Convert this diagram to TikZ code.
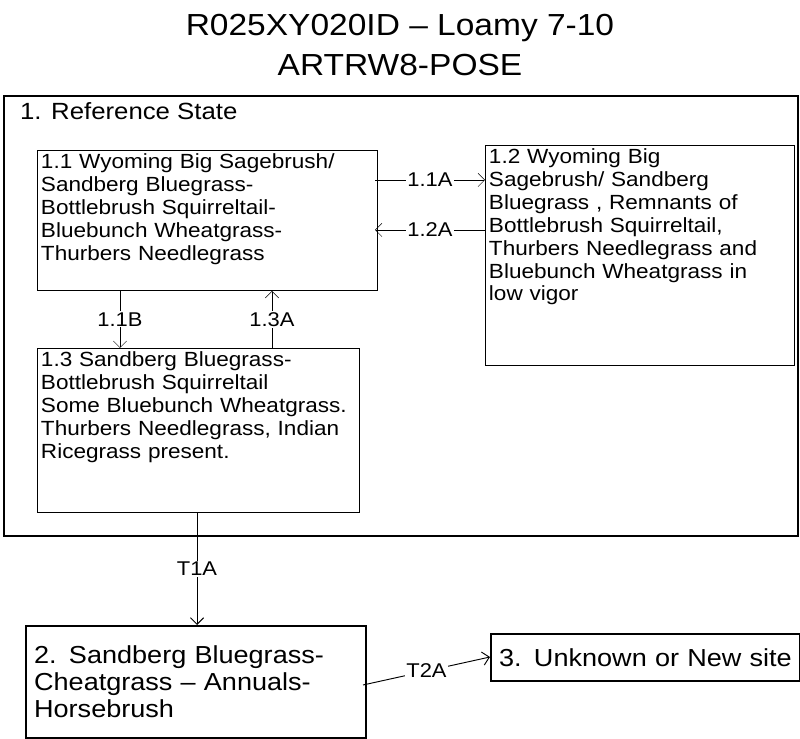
\documentclass[tikz,border=0pt]{standalone}
\usepackage{fontspec}
\setmainfont[FakeStretch=1.1]{Liberation Sans}
\usetikzlibrary{positioning,arrows.meta}
\newcommand{\topbox}[2]{\begin{minipage}[t][#1][t]{\hsize}\raggedright\hyphenpenalty=10000 #2\end{minipage}}
\begin{document}
\begin{tikzpicture}[x=0.03cm,y=-0.03cm,
    >={Straight Barb[length=2mm]},
    % Styles
    state/.style={% thin state boxes
        rectangle, draw, thick, anchor=north west,
        inner xsep=3pt, inner ysep=3pt,
        font=\fontsize{17.5}{19.5}\selectfont,
        },
    bigstate/.style={% thick state boxes
        rectangle, draw, line width=1.6pt, anchor=north west,
        align=left, inner xsep=7pt, inner ysep=4pt,
        font=\fontsize{21}{23}\selectfont,
        },
    lbl/.style={% arrow labels
        fill=white, inner sep=1pt,
        font=\fontsize{17}{18}\selectfont,
        },
    ]
\useasboundingbox (0,0) rectangle (800,739);

% Title
\node[font=\fontsize{26}{34}\selectfont, align=center] (title) at (400,45)
    {R025XY020ID -- Loamy 7-10\\ARTRW8-POSE};

% Reference state
\node[draw, line width=1.8pt, minimum width=794*0.03cm, minimum height=440*0.03cm,
      anchor=north west] (ref) at (3,95) {};
\node[anchor=north west, font=\fontsize{20}{22}\selectfont] (reftitle) at (16,98) {1. Reference State};

\node[state, text width=333*0.03cm] (s11) at (37,150)
    {\topbox{\dimexpr4.2cm-6pt}{1.1 Wyoming Big Sagebrush/\\Sandberg Bluegrass-\\Bottlebrush Squirreltail-\\Bluebunch Wheatgrass-\\Thurbers Needlegrass}};
\node[state, text width=302*0.03cm] (s12) at (485,145)
    {\topbox{\dimexpr6.6cm-6pt}{1.2 Wyoming Big\\Sagebrush/ Sandberg\\Bluegrass , Remnants of\\Bottlebrush Squirreltail,\\Thurbers Needlegrass and\\Bluebunch Wheatgrass in\\low vigor}};
\node[state, text width=315*0.03cm] (s13) at (37,348)
    {\topbox{\dimexpr4.92cm-6pt}{1.3 Sandberg Bluegrass-\\Bottlebrush Squirreltail\\Some Bluebunch Wheatgrass.\\Thurbers Needlegrass, Indian\\Ricegrass present.}};

\coordinate (a1) at (375,180);
\coordinate (b1) at (485,180);
\coordinate (a2) at (485,230);
\coordinate (b2) at (375,230);
\draw[->] (a1) -- node[lbl] {1.1A} (b1);
\draw[->] (a2) -- node[lbl] {1.2A} (b2);
\draw[->] (s11.south -| 120,0) -- node[lbl] {1.1B} (s13.north -| 120,0);
\draw[->] (s13.north -| 272,0) -- node[lbl] {1.3A} (s11.south -| 272,0);

% Other states
\node[bigstate, text width=324*0.03cm, minimum height=112*0.03cm] (s2) at (25,625)
    {2. Sandberg Bluegrass-\\Cheatgrass -- Annuals-\\Horsebrush};
\node[bigstate, text width=293*0.03cm, minimum height=47*0.03cm] (s3) at (490,633)
    {3. Unknown or New site};

\draw[->, thick] (s13.south -| 197,0) -- node[lbl] {T1A} (s2.north -| 197,0);
\coordinate (t2a) at (363,685);
\coordinate (t2b) at (490,657);
\draw[->, thick] (t2a) -- node[lbl] {T2A} (t2b);
\end{tikzpicture}
\end{document}
